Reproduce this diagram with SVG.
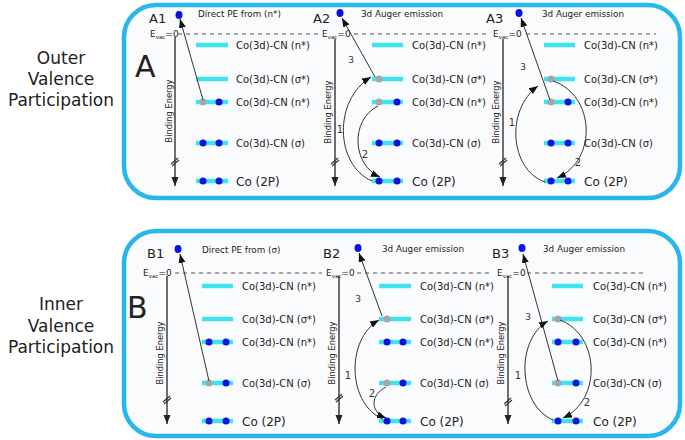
<svg xmlns="http://www.w3.org/2000/svg" width="685" height="440" viewBox="0 0 685 440">
<style>
text{font-family:"DejaVu Sans","Liberation Sans",sans-serif;fill:#222}
.box{fill:#fafbfc;stroke:#29b6ea;stroke-width:4.5}
.side{font-size:17px;text-anchor:middle;fill:#222}
.big{font-size:30px}
.pl{font-size:13px}
.hd{font-size:8.8px}
.lab{font-size:10px}
.lab2{font-size:12px}
.ev{font-size:9px}
.sub{font-size:5.5px}
.be{font-size:8.3px}
.num{font-size:10px;text-anchor:middle;fill:#333}
.num3{font-size:9px;text-anchor:middle;fill:#333}
.lvl{stroke:#3de4ef;stroke-width:4.5}
.b{fill:#0c12e0}
.g{fill:#a6a6a6}
.dash{stroke:#555;stroke-width:1;stroke-dasharray:4 4}
.axis{stroke:#333;stroke-width:1.4;fill:none}
.brk{stroke:#333;stroke-width:1.2}
.arr{stroke:#333;stroke-width:1;fill:none;marker-end:url(#ah)}
</style>
<defs>
<marker id="ah" markerUnits="userSpaceOnUse" markerWidth="10" markerHeight="8" refX="9" refY="3.5" orient="auto"><path d="M0,0 L9,3.5 L0,7 z" fill="#111"/></marker>
<marker id="ahb" markerUnits="userSpaceOnUse" markerWidth="10" markerHeight="8" refX="9" refY="3.5" orient="auto"><path d="M0,0 L9,3.5 L0,7 z" fill="#222"/></marker>
</defs>

<text class="side" x="61" y="64">Outer</text>
<text class="side" x="61" y="85">Valence</text>
<text class="side" x="61" y="106">Participation</text>
<text class="side" x="61" y="310">Inner</text>
<text class="side" x="61" y="332">Valence</text>
<text class="side" x="61" y="353">Participation</text>

<g id="boxA">
<rect class="box" x="124" y="5" width="556" height="193" rx="32"/>
<text class="big" x="135" y="77">A</text>
</g>
<g id="boxB">
<rect class="box" x="124" y="231" width="556" height="205" rx="32"/>
<text class="big" x="127" y="318">B</text>
</g>

<!-- Panel A1 -->
<g id="A1">
<text class="pl" x="149" y="23">A1</text>
<ellipse class="b" cx="179" cy="15" rx="3.5" ry="4"/>
<text class="hd" x="198" y="17">Direct PE from  (n*)</text>
<text class="ev" x="150" y="37">E<tspan class="sub" dy="1.5">vac</tspan><tspan dy="-1.5">=0</tspan></text>
<text class="be" transform="translate(172,111) rotate(-90)" text-anchor="middle">Binding Energy</text>
<line class="lvl" x1="196" y1="45" x2="228" y2="45"/>
<line class="lvl" x1="196" y1="79" x2="228" y2="79"/>
<line class="lvl" x1="196" y1="102" x2="228" y2="102"/>
<line class="lvl" x1="196" y1="143" x2="228" y2="143"/>
<line class="lvl" x1="196" y1="181" x2="228" y2="181"/>
<circle class="g" cx="203" cy="102" r="3.5"/><circle class="b" cx="219" cy="102" r="3.5"/>
<circle class="b" cx="203" cy="143" r="3.5"/><circle class="b" cx="219" cy="143" r="3.5"/>
<circle class="b" cx="203" cy="181" r="3.5"/><circle class="b" cx="219" cy="181" r="3.5"/>
<text class="lab" x="236" y="48.5">Co(3d)-CN (n*)</text>
<text class="lab" x="236" y="82.5">Co(3d)-CN (σ*)</text>
<text class="lab" x="236" y="105.5">Co(3d)-CN (n*)</text>
<text class="lab" x="236" y="146.5">Co(3d)-CN (σ)</text>
<text class="lab2" x="236" y="185.5">Co (2P)</text>
</g>

<!-- Panel A2 -->
<g id="A2">
<text class="pl" x="313" y="23">A2</text>
<ellipse class="b" cx="340" cy="13" rx="3.5" ry="4"/>
<text class="hd" x="361" y="17">3d Auger emission</text>
<text class="ev" x="322" y="37">E<tspan class="sub" dy="1.5">vac</tspan><tspan dy="-1.5">=0</tspan></text>
<text class="be" transform="translate(331,112) rotate(-90)" text-anchor="middle">Binding Energy</text>
<line class="lvl" x1="372" y1="45" x2="403" y2="45"/>
<line class="lvl" x1="372" y1="79" x2="403" y2="79"/>
<line class="lvl" x1="372" y1="102" x2="403" y2="102"/>
<line class="lvl" x1="372" y1="143" x2="403" y2="143"/>
<line class="lvl" x1="372" y1="181" x2="403" y2="181"/>
<circle class="g" cx="379" cy="79" r="3.5"/>
<circle class="g" cx="379" cy="102" r="3.5"/><circle class="b" cx="397" cy="102" r="3.5"/>
<circle class="b" cx="379" cy="143" r="3.5"/><circle class="b" cx="397" cy="143" r="3.5"/>
<circle class="b" cx="379" cy="181" r="3.5"/><circle class="b" cx="397" cy="181" r="3.5"/>
<text class="lab" x="412" y="48.5">Co(3d)-CN (n*)</text>
<text class="lab" x="412" y="82.5">Co(3d)-CN (σ*)</text>
<text class="lab" x="412" y="105.5">Co(3d)-CN (n*)</text>
<text class="lab" x="412" y="146.5">Co(3d)-CN (σ)</text>
<text class="lab2" x="412" y="185.5">Co (2P)</text>
<text class="num3" x="351" y="63">3</text>
<text class="num" x="340" y="133">1</text>
<text class="num" x="365" y="158">2</text>
</g>

<!-- Panel A3 -->
<g id="A3">
<text class="pl" x="486" y="23">A3</text>
<ellipse class="b" cx="519" cy="13" rx="3.5" ry="4"/>
<text class="hd" x="542" y="17">3d Auger emission</text>
<text class="ev" x="493" y="37">E<tspan class="sub" dy="1.5">vac</tspan><tspan dy="-1.5">=0</tspan></text>
<text class="be" transform="translate(499,112) rotate(-90)" text-anchor="middle">Binding Energy</text>
<line class="lvl" x1="544" y1="45" x2="575" y2="45"/>
<line class="lvl" x1="544" y1="79" x2="575" y2="79"/>
<line class="lvl" x1="544" y1="102" x2="575" y2="102"/>
<line class="lvl" x1="544" y1="143" x2="575" y2="143"/>
<line class="lvl" x1="544" y1="181" x2="575" y2="181"/>
<circle class="g" cx="551" cy="79" r="3.5"/>
<circle class="g" cx="551" cy="102" r="3.5"/><circle class="b" cx="568" cy="102" r="3.5"/>
<circle class="b" cx="551" cy="143" r="3.5"/><circle class="b" cx="568" cy="143" r="3.5"/>
<circle class="b" cx="551" cy="181" r="3.5"/><circle class="b" cx="568" cy="181" r="3.5"/>
<text class="lab" x="584" y="48.5">Co(3d)-CN (n*)</text>
<text class="lab" x="584" y="82.5">Co(3d)-CN (σ*)</text>
<text class="lab" x="584" y="105.5">Co(3d)-CN (n*)</text>
<text class="lab" x="584" y="146.5">Co(3d)-CN (σ)</text>
<text class="lab2" x="584" y="185.5">Co (2P)</text>
<text class="num3" x="523" y="70">3</text>
<text class="num" x="512" y="126">1</text>
<text class="num" x="578" y="166">2</text>
</g>

<!-- Panel B1 -->
<g id="B1">
<text class="pl" x="147" y="258">B1</text>
<ellipse class="b" cx="178" cy="249" rx="3.5" ry="4"/>
<text class="hd" x="202" y="253">Direct PE from  (σ)</text>
<text class="ev" x="143" y="276">E<tspan class="sub" dy="1.5">vac</tspan><tspan dy="-1.5">=0</tspan></text>
<text class="be" transform="translate(163,353) rotate(-90)" text-anchor="middle">Binding Energy</text>
<line class="lvl" x1="202" y1="286" x2="233" y2="286"/>
<line class="lvl" x1="202" y1="319" x2="233" y2="319"/>
<line class="lvl" x1="202" y1="342" x2="233" y2="342"/>
<line class="lvl" x1="202" y1="383" x2="233" y2="383"/>
<line class="lvl" x1="202" y1="421" x2="233" y2="421"/>
<circle class="b" cx="209" cy="342" r="3.5"/><circle class="b" cx="226" cy="342" r="3.5"/>
<circle class="g" cx="209" cy="383" r="3.5"/><circle class="b" cx="226" cy="383" r="3.5"/>
<circle class="b" cx="209" cy="421" r="3.5"/><circle class="b" cx="226" cy="421" r="3.5"/>
<text class="lab" x="242" y="289.5">Co(3d)-CN (n*)</text>
<text class="lab" x="242" y="322.5">Co(3d)-CN (σ*)</text>
<text class="lab" x="242" y="345.5">Co(3d)-CN (n*)</text>
<text class="lab" x="242" y="386.5">Co(3d)-CN (σ)</text>
<text class="lab2" x="242" y="425.5">Co (2P)</text>
</g>

<!-- Panel B2 -->
<g id="B2">
<text class="pl" x="323" y="258">B2</text>
<ellipse class="b" cx="358" cy="248" rx="3.5" ry="4"/>
<text class="hd" x="382" y="252">3d Auger emission</text>
<text class="ev" x="326" y="276">E<tspan class="sub" dy="1.5">vac</tspan><tspan dy="-1.5">=0</tspan></text>
<text class="be" transform="translate(335,353) rotate(-90)" text-anchor="middle">Binding Energy</text>
<line class="lvl" x1="379" y1="286" x2="411" y2="286"/>
<line class="lvl" x1="379" y1="319" x2="411" y2="319"/>
<line class="lvl" x1="379" y1="342" x2="411" y2="342"/>
<line class="lvl" x1="379" y1="383" x2="411" y2="383"/>
<line class="lvl" x1="379" y1="421" x2="411" y2="421"/>
<circle class="g" cx="387" cy="319" r="3.5"/>
<circle class="b" cx="387" cy="342" r="3.5"/><circle class="b" cx="403" cy="342" r="3.5"/>
<circle class="g" cx="387" cy="383" r="3.5"/><circle class="b" cx="403" cy="383" r="3.5"/>
<circle class="b" cx="387" cy="421" r="3.5"/><circle class="b" cx="403" cy="421" r="3.5"/>
<text class="lab" x="420" y="289.5">Co(3d)-CN (n*)</text>
<text class="lab" x="420" y="322.5">Co(3d)-CN (σ*)</text>
<text class="lab" x="420" y="345.5">Co(3d)-CN (n*)</text>
<text class="lab" x="420" y="386.5">Co(3d)-CN (σ)</text>
<text class="lab2" x="420" y="425.5">Co (2P)</text>
<text class="num3" x="358" y="302">3</text>
<text class="num" x="348" y="379">1</text>
<text class="num" x="372" y="397">2</text>
</g>

<!-- Panel B3 -->
<g id="B3">
<text class="pl" x="492" y="258">B3</text>
<ellipse class="b" cx="522" cy="248" rx="3.5" ry="4"/>
<text class="hd" x="543" y="252">3d Auger emission</text>
<text class="ev" x="497" y="276">E<tspan class="sub" dy="1.5">vac</tspan><tspan dy="-1.5">=0</tspan></text>
<text class="be" transform="translate(504,353) rotate(-90)" text-anchor="middle">Binding Energy</text>
<line class="lvl" x1="552" y1="286" x2="583" y2="286"/>
<line class="lvl" x1="552" y1="319" x2="583" y2="319"/>
<line class="lvl" x1="552" y1="342" x2="583" y2="342"/>
<line class="lvl" x1="552" y1="383" x2="583" y2="383"/>
<line class="lvl" x1="552" y1="421" x2="583" y2="421"/>
<circle class="g" cx="558" cy="319" r="3.5"/>
<circle class="b" cx="558" cy="342" r="3.5"/><circle class="b" cx="576" cy="342" r="3.5"/>
<circle class="g" cx="558" cy="383" r="3.5"/><circle class="b" cx="576" cy="383" r="3.5"/>
<circle class="b" cx="558" cy="421" r="3.5"/><circle class="b" cx="576" cy="421" r="3.5"/>
<text class="lab" x="593" y="289.5">Co(3d)-CN (n*)</text>
<text class="lab" x="593" y="322.5">Co(3d)-CN (σ*)</text>
<text class="lab" x="593" y="345.5">Co(3d)-CN (n*)</text>
<text class="lab" x="593" y="386.5">Co(3d)-CN (σ)</text>
<text class="lab2" x="593" y="425.5">Co (2P)</text>
<text class="num3" x="528" y="320">3</text>
<text class="num" x="518" y="379">1</text>
<text class="num" x="587" y="406">2</text>
</g>

<g id="connectors">
<!-- vacuum level dashed lines -->
<line class="dash" x1="178" y1="34" x2="320" y2="34"/>
<line class="dash" x1="354" y1="34" x2="490" y2="34"/>
<line class="dash" x1="526" y1="34" x2="656" y2="34"/>
<line class="dash" x1="175" y1="273" x2="322" y2="273"/>
<line class="dash" x1="357" y1="273" x2="492" y2="273"/>
<line class="dash" x1="527" y1="273" x2="646" y2="273"/>
<!-- binding energy axes -->
<line class="axis" x1="175" y1="37" x2="175" y2="186" marker-end="url(#ahb)"/>
<line class="axis" x1="335" y1="39" x2="335" y2="186" marker-end="url(#ahb)"/>
<line class="axis" x1="503" y1="39" x2="503" y2="186" marker-end="url(#ahb)"/>
<line class="axis" x1="167" y1="276" x2="167" y2="424" marker-end="url(#ahb)"/>
<line class="axis" x1="339" y1="276" x2="339" y2="424" marker-end="url(#ahb)"/>
<line class="axis" x1="508" y1="276" x2="508" y2="424" marker-end="url(#ahb)"/>
<!-- axis breaks -->
<path class="brk" d="M171,164 L178,158 M172,166 L179,160"/>
<path class="brk" d="M331,164 L338,158 M332,166 L339,160"/>
<path class="brk" d="M499,164 L506,158 M500,166 L507,160"/>
<path class="brk" d="M163,402 L170,396 M164,404 L171,398"/>
<path class="brk" d="M335,400 L342,394 M336,402 L343,396"/>
<path class="brk" d="M504,404 L511,398 M505,406 L512,400"/>
<!-- direct photoemission -->
<line class="arr" x1="203" y1="100" x2="180" y2="19"/>
<line class="arr" x1="209" y1="381" x2="180" y2="254"/>
<!-- A2 -->
<line class="arr" x1="375" y1="77" x2="342" y2="18"/>
<path class="arr" d="M372,181 C335,165 333,100 371,77"/>
<path class="arr" d="M378,106 C350,120 352,165 380,177"/>
<!-- A3 -->
<line class="arr" x1="550" y1="100" x2="521" y2="18"/>
<path class="arr" d="M545,182 C510,170 505,110 538,86"/>
<path class="arr" d="M553,81 C595,95 598,160 557,178"/>
<!-- B2 -->
<line class="arr" x1="382" y1="316" x2="359" y2="253"/>
<path class="arr" d="M383,419 C348,405 345,340 379,320"/>
<path class="arr" d="M386,387 C370,395 370,412 386,418"/>
<!-- B3 -->
<line class="arr" x1="558" y1="381" x2="523" y2="254"/>
<path class="arr" d="M553,420 C518,405 515,340 548,321"/>
<path class="arr" d="M560,320 C600,335 602,400 563,418"/>
</g>
</svg>
